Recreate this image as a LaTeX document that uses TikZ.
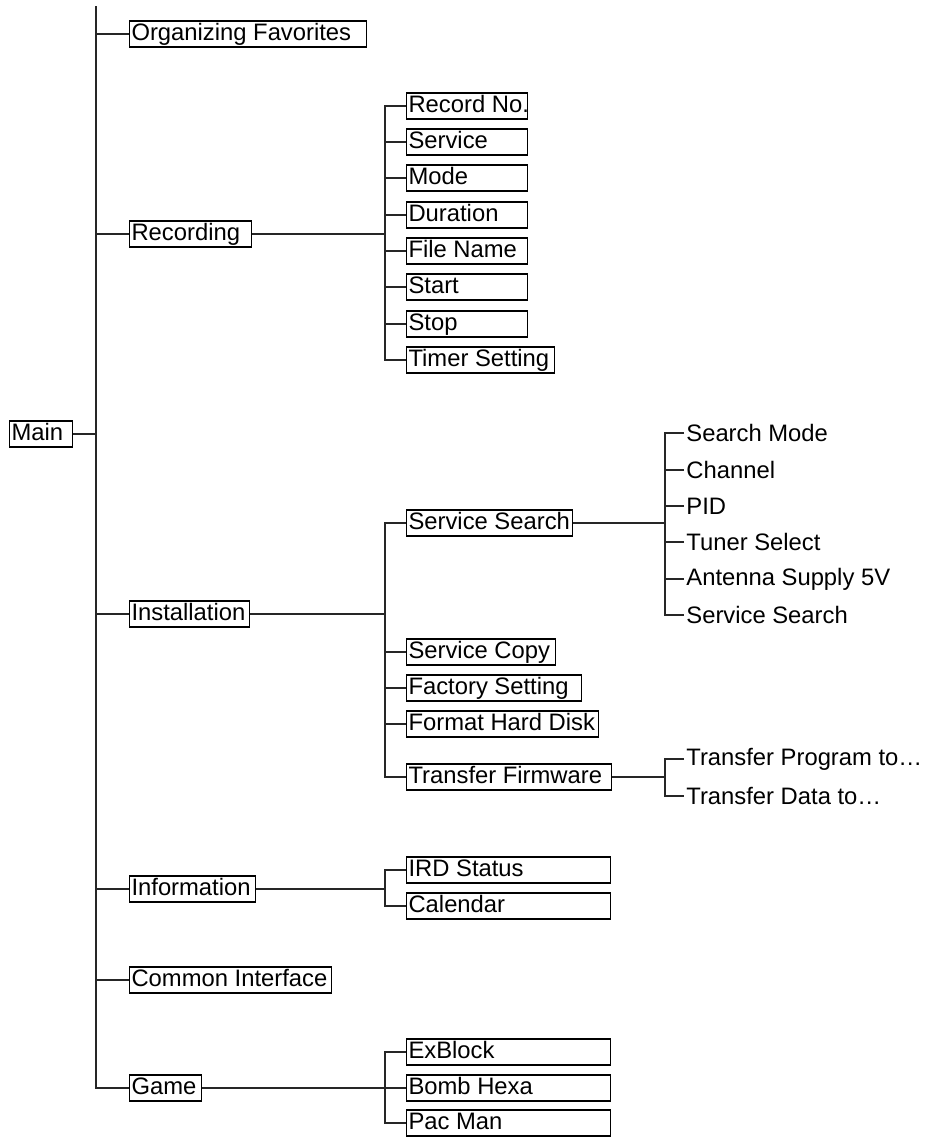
\documentclass[tikz,border=0pt]{standalone}
\usepackage{fontspec}
\setmainfont{Liberation Sans}
\tikzset{
  menubox/.style={rectangle,draw=black,line width=0.55pt,anchor=west,
    execute at begin node={\hbox to #1\bgroup},
    execute at end node={\hss\egroup},
    inner xsep=1pt,inner ysep=0.5pt,
    text height=9pt,text depth=3pt,font=\fontsize{11.9}{14}\selectfont},
  leaf/.style={anchor=west,inner xsep=1pt,inner ysep=0.5pt,
    font=\fontsize{11.9}{14}\selectfont},
  link/.style={draw=black!85,line width=0.6pt},
}

\begin{document}
\begin{tikzpicture}[x=0.5pt,y=-0.5pt]
  \useasboundingbox (0,0) rectangle (930,1137);

  % root and first level
  \node[menubox=29.5pt] (main) at (9,434) {Main};
  \node[menubox=116.5pt] (org) at (129,34) {Organizing Favorites};
  \node[menubox=59pt] (rec) at (129,234) {Recording};
  \node[menubox=58pt] (inst) at (129,614) {Installation};
  \node[menubox=61pt] (info) at (129,889) {Information};
  \node[menubox=99pt] (ci) at (129,980) {Common Interface};
  \node[menubox=34pt] (game) at (129,1088) {Game};

  % Recording submenu
  \node[menubox=58.5pt] (recno) at (406,106) {Record No.};
  \node[menubox=58.5pt] (rsvc) at (406,142) {Service};
  \node[menubox=58.5pt] (rmode) at (406,178) {Mode};
  \node[menubox=58.5pt] (rdur) at (406,215) {Duration};
  \node[menubox=58.5pt] (rfile) at (406,251) {File Name};
  \node[menubox=58.5pt] (rstart) at (406,287) {Start};
  \node[menubox=58.5pt] (rstop) at (406,324) {Stop};
  \node[menubox=72pt] (timer) at (406,360) {Timer Setting};

  % Installation submenu
  \node[menubox=81pt] (ssearch) at (406,523) {Service Search};
  \node[menubox=72.5pt] (scopy) at (406,652) {Service Copy};
  \node[menubox=85.5pt] (fset) at (406,688) {Factory Setting};
  \node[menubox=94pt] (fhd) at (406,724) {Format Hard Disk};
  \node[menubox=100.5pt] (tfirm) at (406,777) {Transfer Firmware};

  % Service Search items
  \node[leaf] (smode) at (684,433) {Search Mode};
  \node[leaf] (chan) at (684,470) {Channel};
  \node[leaf] (pid) at (684,506) {PID};
  \node[leaf] (tuner) at (684,542) {Tuner Select};
  \node[leaf] (ant) at (684,579) {Antenna Supply 5V};
  \node[leaf] (ssub) at (684,615) {Service Search};

  % Transfer Firmware items
  \node[leaf] (tprog) at (684,759) {Transfer Program to…};
  \node[leaf] (tdata) at (684,796) {Transfer Data to…};

  % Information submenu
  \node[menubox=100pt] (ird) at (406,870) {IRD Status};
  \node[menubox=100pt] (cal) at (406,906) {Calendar};

  % Game submenu
  \node[menubox=100pt] (exb) at (406,1052) {ExBlock};
  \node[menubox=100pt] (bomb) at (406,1088) {Bomb Hexa};
  \node[menubox=100pt] (pac) at (406,1123) {Pac Man};

  % main trunk
  \coordinate (mtop) at (96,6);
  \draw[link] (main.east) -- (main.east -| mtop);
  \draw[link] (mtop) |- (game.west);
  \draw[link] (org.west) -- (org.west -| mtop);
  \draw[link] (rec.west) -- (rec.west -| mtop);
  \draw[link] (inst.west) -- (inst.west -| mtop);
  \draw[link] (info.west) -- (info.west -| mtop);
  \draw[link] (ci.west) -- (ci.west -| mtop);

  % Recording branch
  \coordinate (rjoin) at (385,234);
  \draw[link] (rec.east) -- (rjoin);
  \draw[link] (recno.west) -| (rjoin) |- (timer.west);
  \draw[link] (rsvc.west) -- (rsvc.west -| rjoin);
  \draw[link] (rmode.west) -- (rmode.west -| rjoin);
  \draw[link] (rdur.west) -- (rdur.west -| rjoin);
  \draw[link] (rfile.west) -- (rfile.west -| rjoin);
  \draw[link] (rstart.west) -- (rstart.west -| rjoin);
  \draw[link] (rstop.west) -- (rstop.west -| rjoin);

  % Installation branch
  \coordinate (ijoin) at (385,614);
  \draw[link] (inst.east) -- (ijoin);
  \draw[link] (ssearch.west) -| (ijoin) |- (tfirm.west);
  \draw[link] (scopy.west) -- (scopy.west -| ijoin);
  \draw[link] (fset.west) -- (fset.west -| ijoin);
  \draw[link] (fhd.west) -- (fhd.west -| ijoin);

  % Service Search branch
  \coordinate (sjoin) at (665,523);
  \draw[link] (ssearch.east) -- (sjoin);
  \draw[link] (smode.west) -| (sjoin) |- (ssub.west);
  \draw[link] (chan.west) -- (chan.west -| sjoin);
  \draw[link] (pid.west) -- (pid.west -| sjoin);
  \draw[link] (tuner.west) -- (tuner.west -| sjoin);
  \draw[link] (ant.west) -- (ant.west -| sjoin);

  % Transfer Firmware branch
  \coordinate (tjoin) at (665,777);
  \draw[link] (tfirm.east) -- (tjoin);
  \draw[link] (tprog.west) -| (tjoin) |- (tdata.west);

  % Information branch
  \coordinate (njoin) at (385,889);
  \draw[link] (info.east) -- (njoin);
  \draw[link] (ird.west) -| (njoin) |- (cal.west);

  % Game branch
  \coordinate (gjoin) at (385,1088);
  \draw[link] (game.east) -- (bomb.west);
  \draw[link] (exb.west) -| (gjoin) |- (pac.west);

\end{tikzpicture}
\end{document}
